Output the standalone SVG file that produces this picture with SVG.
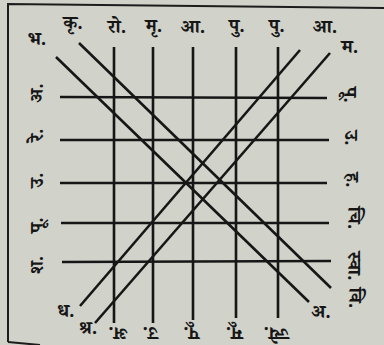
<svg xmlns="http://www.w3.org/2000/svg" width="384" height="345" viewBox="0 0 384 345">
<style>
.bg{fill:#d1d2ca}
.ln{stroke:#161616;stroke-width:2.6;stroke-linecap:butt;fill:none}
.bd{stroke:#1c1c1c;stroke-width:2;fill:none}
.t{font-family:'Noto Serif Devanagari','Noto Sans Devanagari','Lohit Devanagari','Noto Sans',serif;font-size:19px;font-weight:bold;fill:#161616;text-anchor:middle}
</style>
<rect class="bg" x="0" y="0" width="384" height="345"/>
<g id="border">
<path class="bd" d="M8,342 L8,4 L384,8"/>
<path class="bd" d="M8,342 L40,345"/>
</g>
<g id="connectors">
<line class="ln" x1="114" y1="47" x2="114" y2="323"/>
<line class="ln" x1="153" y1="47" x2="153" y2="323"/>
<line class="ln" x1="193" y1="47" x2="193" y2="320"/>
<line class="ln" x1="236" y1="47" x2="236" y2="318"/>
<line class="ln" x1="278" y1="47" x2="278" y2="318"/>
<line class="ln" x1="60" y1="97" x2="327" y2="98"/>
<line class="ln" x1="60" y1="140" x2="329" y2="140"/>
<line class="ln" x1="60" y1="183" x2="327" y2="183"/>
<line class="ln" x1="61" y1="223" x2="329" y2="223"/>
<line class="ln" x1="62" y1="262" x2="331" y2="261"/>
<line class="ln" x1="56" y1="57" x2="309" y2="302"/>
<line class="ln" x1="79" y1="43" x2="331" y2="288"/>
<line class="ln" x1="300" y1="50" x2="80" y2="306"/>
<line class="ln" x1="330" y1="53" x2="95" y2="323"/>
</g>
<g id="top-labels">
<text id="n-bha" class="t" x="37" y="45">भ.</text>
<text id="n-kri" class="t" x="73" y="29">कृ.</text>
<text id="n-ro" class="t" x="117" y="33">रो.</text>
<text id="n-mri" class="t" x="154" y="32">मृ.</text>
<text id="n-aa1" class="t" x="193" y="33">आ.</text>
<text id="n-pu1" class="t" x="237" y="32">पु.</text>
<text id="n-pu2" class="t" x="277" y="32">पु.</text>
<text id="n-aa2" class="t" x="325" y="33">आ.</text>
<text id="n-ma" class="t" x="350" y="53">म.</text>
</g>
<g id="right-labels">
<text id="n-pp" class="t" transform="translate(351,95) rotate(90)" y="7">पू.</text>
<text id="n-up" class="t" transform="translate(352,138) rotate(90)" y="7">उ.</text>
<text id="n-ha" class="t" transform="translate(353,180) rotate(90)" y="7">ह.</text>
<text id="n-chi" class="t" transform="translate(355,218) rotate(90)" y="7">चि.</text>
<text id="n-swa" class="t" transform="translate(355,266) rotate(90)" y="7">स्वा.</text>
<text id="n-vi" class="t" transform="translate(356,298) rotate(90)" y="7">वि.</text>
</g>
<g id="left-labels">
<text id="n-ash" class="t" transform="translate(36,93) rotate(-90)" y="7">अ.</text>
<text id="n-re" class="t" transform="translate(36,135) rotate(-90)" y="7">रे.</text>
<text id="n-ub" class="t" transform="translate(36,180) rotate(-90)" y="7">उ.</text>
<text id="n-pb" class="t" transform="translate(36,225) rotate(-90)" y="7">पू.</text>
<text id="n-sha" class="t" transform="translate(36,265) rotate(-90)" y="7">श.</text>
</g>
<g id="bottom-labels">
<text id="n-dha" class="t" x="66" y="317">ध.</text>
<text id="n-shr" class="t" x="88" y="334">श्र.</text>
<text id="n-anu" class="t" x="321" y="318">अ.</text>
<text id="n-abh" class="t" transform="translate(118,327) rotate(180)">अ.</text>
<text id="n-ua" class="t" transform="translate(150,327) rotate(180)">उ.</text>
<text id="n-pa" class="t" transform="translate(191,327) rotate(180)">पू.</text>
<text id="n-mu" class="t" transform="translate(234,327) rotate(180)">मू.</text>
<text id="n-jye" class="t" transform="translate(276,327) rotate(180)">ज्ये.</text>
</g>
</svg>
